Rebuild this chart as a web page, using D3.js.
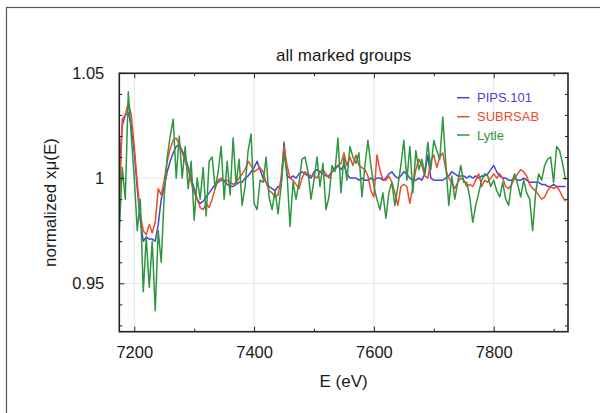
<!DOCTYPE html>
<html>
<head>
<meta charset="utf-8">
<script src="https://cdn.jsdelivr.net/npm/d3@7"></script>
<style>
  html, body { margin: 0; padding: 0; background: #fff; }
  svg { display: block; font-family: "Liberation Sans", Arial, Helvetica, sans-serif; }
</style>
</head>
<body>
<script>
// Photon energy grid (eV)
const energies = [
  7175,7180,7185,7190,7195,7200,7205,7210,7215,7220,
  7225,7230,7235,7240,7245,7250,7255,7260,7265,7270,
  7275,7280,7285,7290,7295,7300,7305,7310,7315,7320,
  7325,7330,7335,7340,7345,7350,7355,7360,7365,7370,
  7375,7380,7385,7390,7395,7400,7405,7410,7415,7420,
  7425,7430,7435,7440,7445,7450,7455,7460,7465,7470,
  7475,7480,7485,7490,7495,7500,7505,7510,7515,7520,
  7525,7530,7535,7540,7545,7550,7555,7560,7565,7570,
  7575,7580,7585,7590,7595,7600,7605,7610,7615,7620,
  7625,7630,7635,7640,7645,7650,7655,7660,7665,7670,
  7675,7680,7685,7690,7695,7700,7705,7710,7715,7720,
  7725,7730,7735,7740,7745,7750,7755,7760,7765,7770,
  7775,7780,7785,7790,7795,7800,7805,7810,7815,7820,
  7825,7830,7835,7840,7845,7850,7855,7860,7865,7870,
  7875,7880,7885,7890,7895,7900,7905,7910,7915,7920
];

// normalized x·mu(E) for each group
const pips101 = [
  1.005,1.025,1.030,1.031,1.025,1.012,0.995,0.980,0.970,0.972,
  0.971,0.971,0.970,0.978,0.990,0.996,1.003,1.008,1.012,1.015,
  1.016,1.013,1.010,1.005,1.000,0.995,0.990,0.988,0.989,0.991,
  0.993,0.995,0.997,0.998,0.999,0.999,
  0.997,0.996,0.996,0.997,0.998,0.998,1.000,1.001,1.003,1.005,
  1.008,1.004,1.000,0.998,0.996,0.995,0.994,0.996,0.996,1.017,
  1.001,1.000,1.001,1.000,1.002,1.003,1.002,1.001,1.000,1.003,
  1.004,1.003,1.002,1.001,1.001,1.003,1.004,1.006,
  1.004,1.006,1.002,1.000,1.000,1.000,0.999,1.000,0.999,0.999,
  1.000,0.999,1.000,1.000,0.999,1.000,1.002,1.003,1.001,1.000,
  1.001,1.003,1.002,1.000,0.999,0.999,1.000,0.999,1.002,1.011,
  1.000,0.999,0.999,0.999,0.999,1.000,1.001,
  1.003,1.002,1.001,1.001,1.001,1.000,1.001,1.000,1.001,1.000,
  1.001,1.001,1.002,1.004,1.006,1.003,1.001,1.000,1.000,0.999,
  0.999,1.000,0.999,0.999,1.000,0.999,0.998,0.998,0.998,0.998,
  0.997,0.997,0.996,0.996,0.997,0.996,0.996,0.996,0.996
];

const subrsab = [
  0.985,1.028,1.030,1.036,1.030,1.015,0.998,0.983,0.975,0.973,
  0.978,0.974,0.979,0.995,0.992,0.999,1.008,1.014,1.018,1.019,
  1.016,1.012,1.008,1.004,0.998,0.993,0.990,0.986,0.985,0.988,
  0.986,0.990,0.995,0.999,1.000,0.998,
  0.999,0.998,0.997,0.998,1.000,1.002,1.004,1.008,1.006,1.003,
  1.004,1.005,1.003,0.998,0.994,0.993,0.991,0.992,1.000,1.015,
  1.006,1.000,0.999,0.997,0.995,1.000,1.003,1.002,1.001,1.001,
  1.000,1.003,1.004,1.002,1.000,1.003,1.005,1.006,
  1.007,1.012,1.006,1.010,1.006,1.011,1.006,1.005,1.004,1.001,
  0.994,0.991,1.011,1.004,0.999,0.999,1.001,0.998,0.993,0.987,
  0.996,0.997,0.996,0.988,0.996,1.004,1.009,1.006,1.001,1.000,
  1.008,1.011,1.005,1.010,1.012,1.004,1.000,
  0.998,0.995,0.998,1.000,0.999,0.996,0.997,0.996,0.999,1.002,
  0.996,0.999,0.998,1.000,1.002,1.000,1.002,1.000,0.996,0.995,
  0.997,1.000,1.002,1.004,1.003,1.001,0.997,0.995,0.994,0.992,
  0.990,0.991,0.994,0.996,0.995,0.996,0.994,0.991,0.989
];

const lytle = [
  0.975,1.005,0.990,1.041,1.020,1.000,0.975,0.990,0.946,0.972,
  0.948,0.970,0.937,0.975,0.960,0.992,1.010,1.020,1.028,1.000,
  1.020,1.000,1.015,0.995,1.008,0.980,1.000,0.990,1.005,0.982,
  1.008,1.010,0.995,1.003,1.015,0.990,
  1.008,0.992,1.019,0.997,1.009,0.987,0.996,1.013,1.021,0.988,
  0.985,0.999,0.998,1.010,0.991,0.985,0.994,0.983,0.996,1.012,
  1.002,0.977,0.998,0.990,0.998,1.009,1.010,1.003,0.990,0.999,
  1.010,0.996,1.007,0.985,0.991,1.006,1.003,1.019,
  0.993,1.010,0.999,1.015,1.010,1.007,1.012,0.991,1.006,1.018,
  1.006,0.996,0.990,0.985,0.993,0.981,0.993,0.998,0.987,0.996,
  1.006,1.018,0.999,1.015,0.993,1.013,1.004,1.009,1.002,1.017,
  1.004,1.018,1.013,1.009,1.029,1.007,0.987,
  1.001,0.990,0.998,1.006,0.998,0.998,0.991,0.979,0.987,0.993,
  0.999,1.002,1.001,0.996,0.999,0.994,0.991,0.998,0.990,0.987,
  0.998,1.002,0.997,0.991,0.999,0.993,0.990,0.975,0.993,1.002,
  0.999,1.006,1.009,1.010,0.998,1.015,1.013,1.007,0.999
];

const seriesNames = ["PIPS.101", "SUBRSAB", "Lytle"];
const seriesColors = ["#4646cc", "#f04a2a", "#2c9640"];
const seriesValues = [pips101, subrsab, lytle];

// Axis ticks
const xMajorTicks = [7200, 7400, 7600, 7800];
const xMinorTicks = [7300, 7500, 7700, 7900];
const yMajorTicks = [0.95, 1, 1.05];
const yMinorTicks = [0.93, 0.94, 0.96, 0.97, 0.98, 0.99, 1.01, 1.02, 1.03, 1.04];

const W = 600, H = 413;
const plot = { left: 119.3, right: 568, top: 73.3, bottom: 331.7 };

const svg = d3.select("body").append("svg").attr("width", W).attr("height", H);

// figure frame
svg.append("rect")
  .attr("x", 6.5).attr("y", 7.5).attr("width", 640).attr("height", 440)
  .attr("fill", "none").attr("stroke", "#555").attr("stroke-width", 1.2);

const x = d3.scaleLinear().domain([7175, 7924]).range([plot.left, plot.right]);
const y = d3.scaleLinear().domain([0.927, 1.0498]).range([plot.bottom, plot.top]);

// light grid at major ticks
const grid = svg.append("g").attr("stroke", "#e6e6e6").attr("stroke-width", 1);
grid.selectAll("line.gx").data(xMajorTicks).join("line")
  .attr("x1", d => x(d)).attr("x2", d => x(d))
  .attr("y1", plot.top).attr("y2", plot.bottom);
grid.selectAll("line.gy").data(yMajorTicks).join("line")
  .attr("x1", plot.left).attr("x2", plot.right)
  .attr("y1", d => y(d)).attr("y2", d => y(d));

// data lines
svg.append("clipPath").attr("id", "plotclip").append("rect")
  .attr("x", plot.left).attr("y", plot.top)
  .attr("width", plot.right - plot.left).attr("height", plot.bottom - plot.top);

const line = d3.line()
  .x((d, i) => x(energies[i]))
  .y(d => y(d));

const lines = svg.append("g").attr("clip-path", "url(#plotclip)");
seriesValues.forEach((vals, k) => {
  lines.append("path")
    .datum(vals)
    .attr("d", line)
    .attr("fill", "none")
    .attr("stroke", seriesColors[k])
    .attr("stroke-width", 1.5)
    .attr("stroke-linejoin", "round");
});

// axes (ticks pointing inward on all four sides)
const fmtY = d3.format("~g");
function styleAxis(g) {
  g.select(".domain").remove();
  g.selectAll(".tick line").attr("stroke", "#222").attr("stroke-width", 1);
  g.selectAll(".tick text").attr("fill", "#1a1a1a").style("font-size", "16.5px")
    .style("font-family", "'Liberation Sans', Arial, sans-serif");
}

svg.append("g").attr("transform", `translate(0,${plot.bottom})`)
  .call(d3.axisBottom(x).tickValues(xMajorTicks).tickSize(-5).tickPadding(15).tickFormat(d3.format("d")))
  .call(styleAxis);
svg.append("g").attr("transform", `translate(0,${plot.bottom})`)
  .call(d3.axisBottom(x).tickValues(xMinorTicks).tickSize(-3).tickFormat(""))
  .call(styleAxis);
svg.append("g").attr("transform", `translate(0,${plot.top})`)
  .call(d3.axisTop(x).tickValues(xMajorTicks).tickSize(-5).tickFormat(""))
  .call(styleAxis);
svg.append("g").attr("transform", `translate(0,${plot.top})`)
  .call(d3.axisTop(x).tickValues(xMinorTicks).tickSize(-3).tickFormat(""))
  .call(styleAxis);

svg.append("g").attr("transform", `translate(${plot.left},0)`)
  .call(d3.axisLeft(y).tickValues(yMajorTicks).tickSize(-5).tickPadding(15).tickFormat(fmtY))
  .call(styleAxis);
svg.append("g").attr("transform", `translate(${plot.left},0)`)
  .call(d3.axisLeft(y).tickValues(yMinorTicks).tickSize(-3).tickFormat(""))
  .call(styleAxis);
svg.append("g").attr("transform", `translate(${plot.right},0)`)
  .call(d3.axisRight(y).tickValues(yMajorTicks).tickSize(-5).tickFormat(""))
  .call(styleAxis);
svg.append("g").attr("transform", `translate(${plot.right},0)`)
  .call(d3.axisRight(y).tickValues(yMinorTicks).tickSize(-3).tickFormat(""))
  .call(styleAxis);

// plot frame
svg.append("rect")
  .attr("x", plot.left).attr("y", plot.top)
  .attr("width", plot.right - plot.left).attr("height", plot.bottom - plot.top)
  .attr("fill", "none").attr("stroke", "#222").attr("stroke-width", 1.6);

// titles
svg.append("text")
  .attr("x", (plot.left + plot.right) / 2).attr("y", 61)
  .attr("text-anchor", "middle").attr("fill", "#1a1a1a").style("font-size", "17px")
  .text("all marked groups");

svg.append("text")
  .attr("x", (plot.left + plot.right) / 2).attr("y", 387)
  .attr("text-anchor", "middle").attr("fill", "#1a1a1a").style("font-size", "17px")
  .text("E (eV)");

svg.append("text")
  .attr("transform", `translate(50,${(plot.top + plot.bottom) / 2}) rotate(-90)`)
  .attr("text-anchor", "middle").attr("dominant-baseline", "central")
  .attr("fill", "#1a1a1a").style("font-size", "17px")
  .text("normalized xμ(E)");

// legend
const legendY = [97.7, 116.7, 135];
const legend = svg.append("g");
seriesNames.forEach((name, k) => {
  legend.append("line")
    .attr("x1", 457).attr("x2", 469.5)
    .attr("y1", legendY[k]).attr("y2", legendY[k])
    .attr("stroke", seriesColors[k]).attr("stroke-width", 1.5);
  legend.append("text")
    .attr("x", 477).attr("y", legendY[k])
    .attr("dominant-baseline", "central")
    .attr("fill", seriesColors[k]).style("font-size", "13px")
    .text(name);
});
</script>
</body>
</html>
